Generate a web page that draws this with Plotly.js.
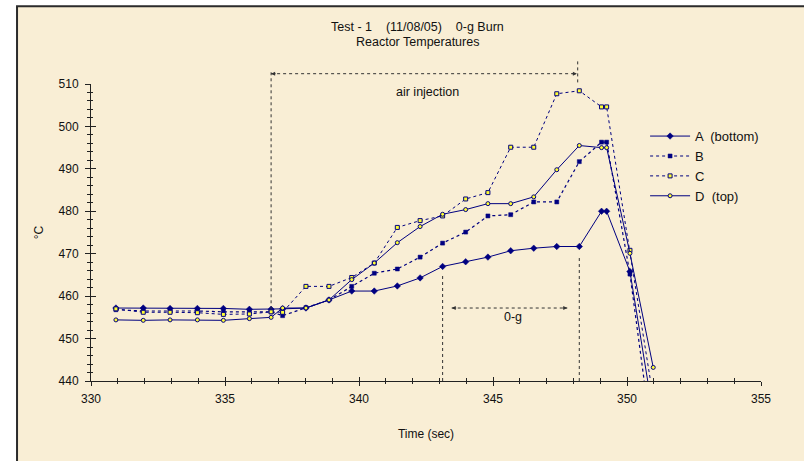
<!DOCTYPE html>
<html>
<head>
<meta charset="utf-8">
<script src="https://cdn.plot.ly/plotly-3.0.1.min.js"></script>
<style>html,body{margin:0;padding:0;background:#fff;}#chart{width:804px;height:461px;}</style>
</head>
<body>
<div id="chart"></div>
<script>
// ---- data ----
var timeSec = [330.93, 331.95, 332.95, 333.97, 334.94, 335.91, 336.72, 337.15, 338.02, 338.88, 339.73, 340.57, 341.43, 342.28, 343.12, 343.98, 344.81, 345.66, 346.52, 347.38, 348.22, 349.05, 349.24, 350.11, 350.98];
var tempA = [457.2, 457.2, 457.1, 457.1, 457.1, 456.9, 456.9, 457.0, 457.2, 459.1, 461.2, 461.2, 462.4, 464.3, 467.0, 468.1, 469.2, 470.7, 471.3, 471.7, 471.7, 480.0, 480.0, 465.8, 432.0];
var tempB = [456.8, 456.5, 456.5, 456.5, 456.3, 456.3, 456.3, 455.4, 457.3, 459.1, 462.3, 465.4, 466.4, 469.2, 472.5, 475.1, 478.9, 479.2, 482.2, 482.2, 491.7, 496.3, 496.3, 465.2, 424.0];
var tempC = [457.0, 456.2, 456.2, 456.1, 455.7, 455.8, 456.3, 456.2, 462.3, 462.3, 464.4, 467.8, 476.2, 477.8, 478.9, 482.9, 484.4, 495.1, 495.1, 507.7, 508.4, 504.6, 504.6, 470.8, 436.0];
var tempD = [454.4, 454.3, 454.4, 454.4, 454.3, 454.7, 455.0, 457.2, 457.2, 459.1, 463.9, 467.8, 472.6, 476.4, 479.3, 480.4, 481.8, 481.8, 483.4, 489.8, 495.5, 495.0, 495.0, 470.1, 443.2];
var seriesNames = ['A  (bottom)', 'B', 'C', 'D  (top)'];
var xTickVals = [330, 335, 340, 345, 350, 355];
var yTickVals = [440, 450, 460, 470, 480, 490, 500, 510];

// annotation anchors (event markers)
var airStart = timeSec[6];
var airEnd = 348.13;
var zeroGStart = timeSec[14];
var zeroGEnd = timeSec[20];

var navy = '#000080';
var xRange = [330, 355];
var yRange = [440, 510];
function px(t) { return (t - xRange[0]) / (xRange[1] - xRange[0]); }
function py(v) { return (v - yRange[0]) / (yRange[1] - yRange[0]); }

var traces = [
  {x: timeSec, y: tempA, name: seriesNames[0], mode: 'lines+markers',
   line: {color: navy, width: 1},
   marker: {symbol: 'diamond', size: 5, color: navy, line: {color: navy, width: 0.5}}},
  {x: timeSec, y: tempB, name: seriesNames[1], mode: 'lines+markers',
   line: {color: navy, width: 1.2, dash: '3px,3px'},
   marker: {symbol: 'square', size: 4, color: navy, line: {color: navy, width: 0.5}}},
  {x: timeSec, y: tempC, name: seriesNames[2], mode: 'lines+markers',
   line: {color: navy, width: 1, dash: '3px,3px'},
   marker: {symbol: 'square', size: 4, color: '#FFFF33', line: {color: navy, width: 1}}},
  {x: timeSec, y: tempD, name: seriesNames[3], mode: 'lines+markers',
   line: {color: navy, width: 1},
   marker: {symbol: 'circle', size: 4, color: '#FFFF33', line: {color: navy, width: 1}}}
];

var dotLine = {color: '#333333', width: 1, dash: 'dot'};
var shapes = [
  // chart frame
  {type: 'rect', xref: 'paper', yref: 'paper', x0: -0.1104, x1: 1.08, y0: -0.35, y1: 1.262,
   fillcolor: '#F9EED5', line: {color: '#2b2b2b', width: 2}, layer: 'below'},
  // air injection markers
  {type: 'line', xref: 'paper', yref: 'paper', x0: px(airStart), x1: px(airStart), y0: py(456.9), y1: 1.0425, line: dotLine},
  {type: 'line', xref: 'paper', yref: 'paper', x0: px(airStart), x1: px(airEnd), y0: 1.0347, y1: 1.0347, line: dotLine},
  {type: 'line', xref: 'paper', yref: 'paper', x0: px(airEnd + 0.03), x1: px(airEnd + 0.03), y0: 1.0054, y1: 1.082, line: dotLine},
  // 0-g markers
  {type: 'line', xref: 'paper', yref: 'paper', x0: px(zeroGStart), x1: px(zeroGStart), y0: 0, y1: py(tempA[14] - 2), line: dotLine},
  {type: 'line', xref: 'paper', yref: 'paper', x0: px(zeroGEnd), x1: px(zeroGEnd), y0: 0, y1: py(tempA[20] - 2.4), line: dotLine},
  {type: 'line', xref: 'paper', yref: 'paper', x0: px(343.46), x1: px(347.77), y0: py(457.2), y1: py(457.2), line: dotLine}
];

function arrowHead(xp, yp, dir) {
  return {xref: 'paper', yref: 'paper', x: xp, y: yp, text: '', showarrow: true,
          arrowhead: 2, arrowsize: 0.8, arrowwidth: 1, arrowcolor: '#333333',
          ax: -dir * 6, ay: 0, standoff: 0, startstandoff: 0};
}
function label(xp, yp, txt, font) {
  return {xref: 'paper', yref: 'paper', x: xp, y: yp, text: txt, showarrow: false,
          xanchor: 'center', yanchor: 'middle', font: font};
}
var narrowFont = {family: 'Liberation Sans Narrow, Arial Narrow, Arial', size: 12.5, color: '#111'};
var noteFont = {family: 'Liberation Sans, Arial', size: 12.5, color: '#111'};

var annotations = [
  label(0.4866, 1 + (84.3 - 27) / 296.7, 'Test - 1    (11/08/05)    0-g Burn', narrowFont),
  label(0.4866, 1 + (84.3 - 42.5) / 296.7, 'Reactor Temperatures', narrowFont),
  label(px(342.54), py(508.0), 'air injection', noteFont),
  label(px(345.73), py(455.0), '0-g', noteFont),
  arrowHead(px(airStart), 1.0347, -1),
  arrowHead(px(airEnd), 1.0347, 1),
  arrowHead(px(343.46), py(457.2), -1),
  arrowHead(px(347.77), py(457.2), 1)
];

var axisFont = {family: 'Liberation Sans, Arial', size: 12, color: '#111'};
var layout = {
  width: 804, height: 461,
  margin: {l: 91, r: 43, t: 84, b: 80},
  paper_bgcolor: '#ffffff', plot_bgcolor: 'rgba(0,0,0,0)',
  showlegend: true,
  legend: {x: 0.827, y: 0.875, xanchor: 'left', yanchor: 'top', bgcolor: 'rgba(0,0,0,0)',
           font: {family: 'Liberation Sans, Arial', size: 13, color: '#111'}, itemwidth: 40,
           traceorder: 'normal'},
  xaxis: {range: xRange, tickvals: xTickVals, ticks: 'outside', ticklen: 4, tickcolor: '#222',
          showline: true, linecolor: '#222', linewidth: 1, showgrid: false, zeroline: false,
          tickfont: axisFont, ticklabelstandoff: 3, title: {text: 'Time (sec)', font: axisFont, standoff: 24},
          minor: {dtick: 1, ticks: 'outside', ticklen: 2, tickcolor: '#222'}},
  yaxis: {range: yRange, tickvals: yTickVals, ticks: 'outside', ticklen: 5, tickcolor: '#222',
          showline: true, linecolor: '#222', linewidth: 1, showgrid: false, zeroline: false,
          tickfont: axisFont, ticklabelstandoff: 4,
          title: {text: '°C', font: axisFont, standoff: 12},
          minor: {dtick: 2, ticks: 'outside', ticklen: 3, tickcolor: '#222'}},
  xaxis2: {overlaying: 'x', range: xRange, tickvals: xTickVals, ticks: 'inside', ticklen: 4, tickcolor: '#222',
           showticklabels: false, showgrid: false, zeroline: false, showline: false,
           minor: {dtick: 1, ticks: 'inside', ticklen: 3, tickcolor: '#222'}},
  yaxis2: {overlaying: 'y', range: yRange, tickvals: yTickVals, ticks: 'inside', ticklen: 5, tickcolor: '#222',
           showticklabels: false, showgrid: false, zeroline: false, showline: false,
           minor: {dtick: 2, ticks: 'inside', ticklen: 2, tickcolor: '#222'}},
  shapes: shapes,
  annotations: annotations
};
// empty trace that activates the overlay axes (used only for crossing tick marks)
traces.push({x: [], y: [], xaxis: 'x2', yaxis: 'y2', showlegend: false, hoverinfo: 'skip'});

Plotly.newPlot('chart', traces, layout, {displayModeBar: false, staticPlot: true});
</script>
</body>
</html>
